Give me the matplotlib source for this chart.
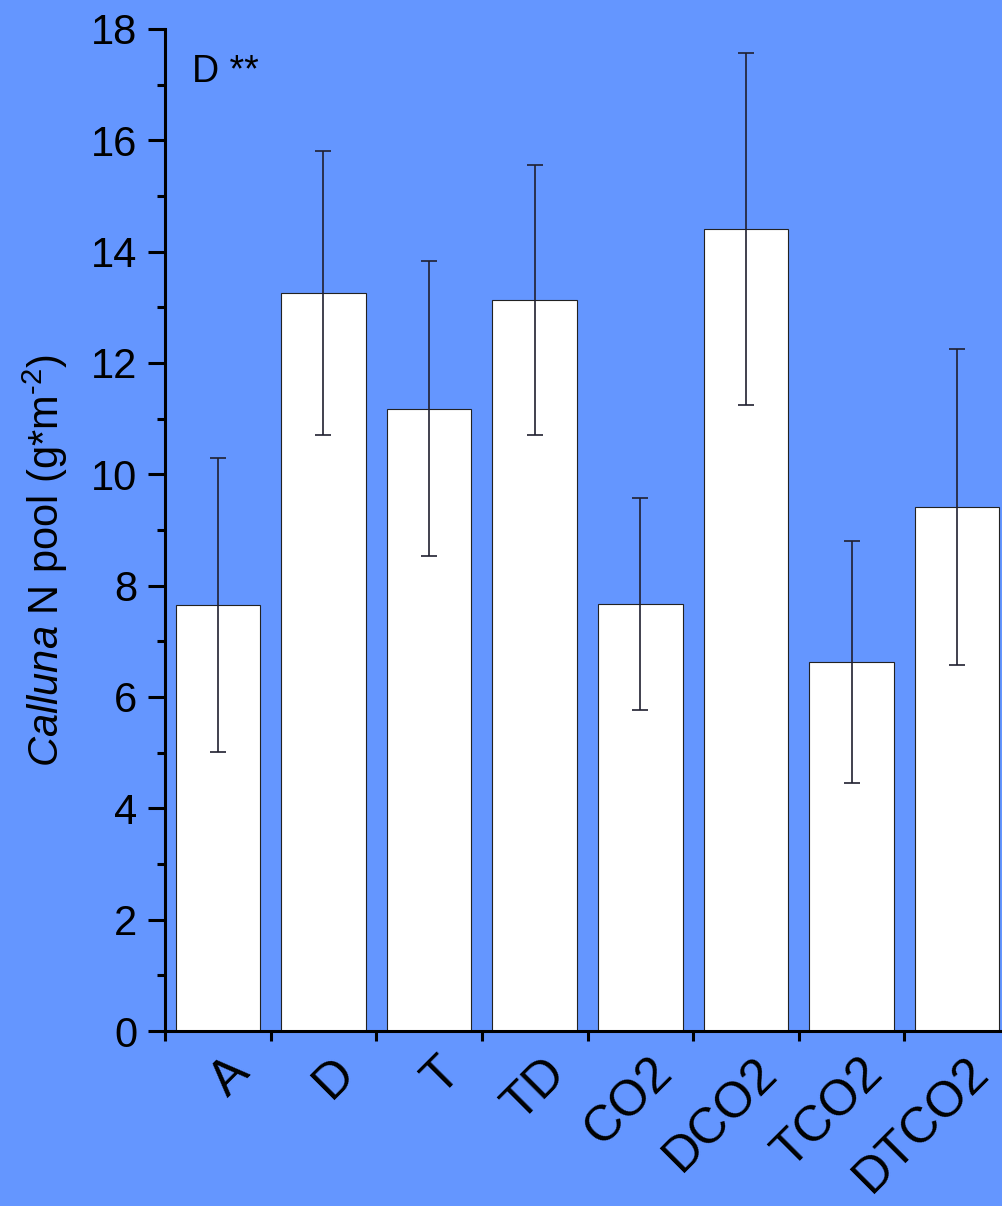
import numpy as np
import matplotlib.pyplot as plt
import matplotlib.transforms as mtransforms
from matplotlib.ticker import MultipleLocator

plt.rcParams['font.family'] = ['Liberation Sans', 'DejaVu Sans']
plt.rcParams['mathtext.fontset'] = 'custom'
plt.rcParams['mathtext.rm'] = 'Liberation Sans'
plt.rcParams['mathtext.it'] = 'Liberation Sans:italic'

# treatments and N pool means with error
treatments = ['A', 'D', 'T', 'TD', 'CO2', 'DCO2', 'TCO2', 'DTCO2']
n_pool = [7.65, 13.25, 11.18, 13.13, 7.67, 14.41, 6.63, 9.41]
n_err = [2.64, 2.55, 2.65, 2.43, 1.91, 3.16, 2.18, 2.84]

bg = '#6496FF'
fig = plt.figure(figsize=(10.03, 12.06), dpi=100, facecolor=bg)
ax = fig.add_axes([0.1645, 0.1451, 0.8425, 0.8309], facecolor=bg)

x = np.arange(1, len(treatments) + 1)
ax.bar(x, n_pool, width=0.8, color='white', edgecolor='#222222', linewidth=0.8, zorder=2)
ax.errorbar(x, n_pool, yerr=n_err, fmt='none', ecolor='#202030', elinewidth=1.2,
            capsize=6, capthick=1.2, zorder=3)

ax.set_xlim(0.5, 8.5)
ax.set_ylim(0, 18)
for s in ['top', 'right']:
    ax.spines[s].set_visible(False)
for s in ['left', 'bottom']:
    ax.spines[s].set_linewidth(2.2)

ax.yaxis.set_major_locator(MultipleLocator(2))
ax.yaxis.set_minor_locator(MultipleLocator(1))
ax.tick_params(axis='y', which='major', direction='out', length=12, width=2.2,
               labelsize=30, pad=8)
ax.tick_params(axis='y', which='minor', direction='out', length=6, width=2.2)

# ticks sit between bars, labels at bar centres
ax.set_xticks(np.arange(0.5, 9, 1))
ax.set_xticklabels([])
ax.set_xticks(x, minor=True)
ax.set_xticklabels(treatments, minor=True, rotation=45, ha='right', va='top',
                   rotation_mode='anchor', fontsize=36)
ax.tick_params(axis='x', which='major', direction='out', length=7, width=2.2)
ax.tick_params(axis='x', which='minor', length=0, pad=13)

# nudge the rotated labels a little to the right
shift = mtransforms.ScaledTranslation(0.08, 0, fig.dpi_scale_trans)
for lbl in ax.get_xticklabels(minor=True):
    lbl.set_transform(lbl.get_transform() + shift)

ax.set_ylabel(r'$\it{Calluna}$ N pool (g*m$^{\text{-}2}$)', fontsize=30, labelpad=14)
ax.yaxis.set_label_coords(-0.113, 0.47)

ax.text(0.032, 0.975, 'D **', transform=ax.transAxes, fontsize=27, va='top', ha='left')

fig.savefig('out.png', dpi=100, facecolor=bg)
